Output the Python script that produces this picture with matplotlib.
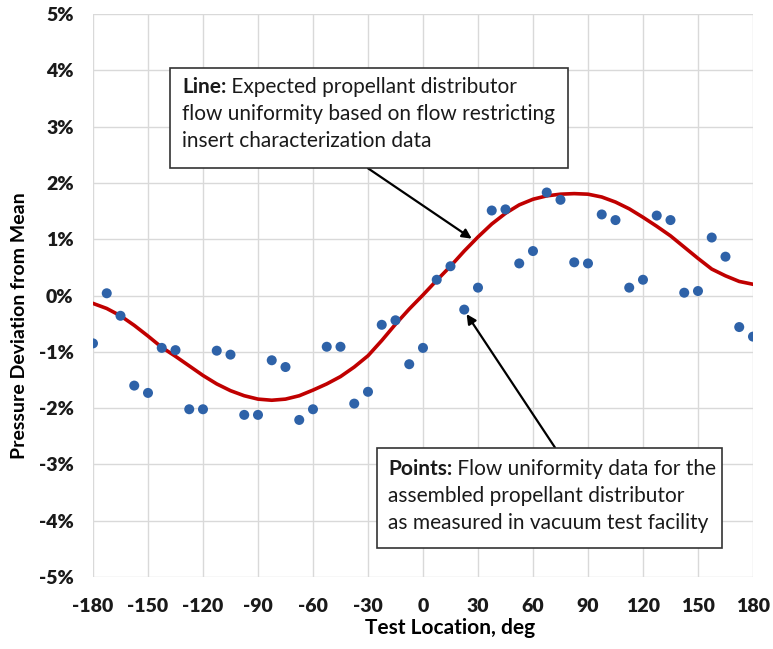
# plot.py

import matplotlib.pyplot as plt
from matplotlib.patches import Rectangle

plt.rcParams['font.family'] = ['Lato', 'DejaVu Sans']
plt.rcParams['axes.unicode_minus'] = False

# -----------------------------
# 1. Data
# -----------------------------
# measured pressure deviation (%) at each test location
point_deg = [-180, -172.5, -165, -157.5, -150, -142.5, -135, -127.5, -120,
             -112.5, -105, -97.5, -90, -82.5, -75, -67.5, -60, -52.5, -45,
             -37.5, -30, -22.5, -15, -7.5, 0, 7.5, 15, 22.5, 30, 37.5, 45,
             52.5, 60, 67.5, 75, 82.5, 90, 97.5, 105, 112.5, 120, 127.5, 135,
             142.5, 150, 157.5, 165, 172.5, 180]
point_dev = [-0.85, 0.04, -0.36, -1.60, -1.73, -0.93, -0.97, -2.02, -2.02,
             -0.98, -1.05, -2.12, -2.12, -1.15, -1.27, -2.21, -2.02, -0.91, -0.91,
             -1.92, -1.71, -0.52, -0.44, -1.22, -0.93, 0.28, 0.52, -0.25, 0.14,
             1.51, 1.53, 0.57, 0.79, 1.83, 1.70, 0.59, 0.57, 1.44, 1.34, 0.14,
             0.28, 1.42, 1.34, 0.05, 0.08, 1.03, 0.69, -0.56, -0.73]

# expected distribution from insert characterization (%)
line_deg = point_deg
line_dev = [-0.14, -0.23, -0.36, -0.53, -0.72, -0.92, -1.08, -1.25, -1.42,
            -1.57, -1.69, -1.78, -1.84, -1.86, -1.84, -1.78, -1.68, -1.57, -1.44,
            -1.27, -1.07, -0.80, -0.51, -0.24, 0.01, 0.27, 0.52, 0.79, 1.04,
            1.27, 1.46, 1.61, 1.71, 1.77, 1.80, 1.81, 1.80, 1.75, 1.66, 1.54,
            1.39, 1.23, 1.06, 0.86, 0.66, 0.47, 0.35, 0.25, 0.20]

x_ticks = list(range(-180, 181, 30))
y_ticks = list(range(-5, 6))
y_ticklabels = [f'{v}%' for v in y_ticks]

line_note = ['Line:', 'Expected propellant distributor',
             'flow uniformity based on flow restricting',
             'insert characterization data']
point_note = ['Points:', 'Flow uniformity data for the',
              'assembled propellant distributor',
              'as measured in vacuum test facility']

# -----------------------------
# 2. Plot
# -----------------------------
fig = plt.figure(figsize=(7.73, 6.49), dpi=100)
ax = fig.add_axes([0.1203, 0.1109, 0.8538, 0.8675])

ax.plot(line_deg, line_dev, color='#c00000', lw=2.6, zorder=2)
ax.scatter(point_deg, point_dev, s=52, color='#2e62a8', edgecolor='none', zorder=3)

ax.set_xlim(-180, 180)
ax.set_ylim(-5, 5)
ax.set_xticks(x_ticks, labels=[str(v) for v in x_ticks],
              fontsize=14, fontweight='heavy', color='#1a1a1a')
ax.set_yticks(y_ticks, labels=y_ticklabels,
              fontsize=14, fontweight='heavy', color='#1a1a1a')
ax.tick_params(axis='y', length=0, pad=14)
ax.tick_params(axis='x', length=0, pad=15)

ax.grid(True, color='#d9d9d9', lw=1)
ax.set_axisbelow(True)
for s in ax.spines.values():
    s.set_visible(False)

ax.set_xlabel('Test Location, deg', fontsize=15, fontweight='bold', va='center')
ax.xaxis.set_label_coords(0.541, -0.0906)
ax.set_ylabel('Pressure Deviation from Mean', fontsize=14, fontweight='bold', va='center')
ax.yaxis.set_label_coords(-0.112, 0.446)


def note_box(x0, x1, y0, y1, tx, baselines, lines):
    # framed note: bold lead word followed by plain text, one text per line
    ax.add_patch(Rectangle((x0, y0), x1 - x0, y1 - y0, facecolor='white',
                           edgecolor='#333333', lw=1.2, zorder=5))
    lead = ax.text(tx, baselines[0], lines[0], fontsize=15, fontweight='bold',
                   color='#1a1a1a', va='baseline', ha='left', zorder=6)
    ax.annotate(' ' + lines[1], xy=(1, 0), xycoords=lead, fontsize=15,
                color='#1a1a1a', va='bottom', ha='left', zorder=6)
    for yb, txt in zip(baselines[1:], lines[2:]):
        ax.text(tx, yb, txt, fontsize=15, color='#1a1a1a',
                va='baseline', ha='left', zorder=6)


note_box(-138, 79.1, 2.26, 4.05, -131.5, [3.59, 3.11, 2.63], line_note)
note_box(-25.1, 163.1, -4.49, -2.70, -19.1, [-3.18, -3.66, -4.14], point_note)

arrow = dict(arrowstyle='-|>', color='black', lw=1.6, mutation_scale=14,
             shrinkA=0, shrinkB=0)
ax.annotate('', xy=(26.6, 1.01), xytext=(-30, 2.26), arrowprops=arrow, zorder=4)
ax.annotate('', xy=(23.8, -0.33), xytext=(72, -2.70), arrowprops=arrow, zorder=4)

plt.savefig('out.png', dpi=100)
